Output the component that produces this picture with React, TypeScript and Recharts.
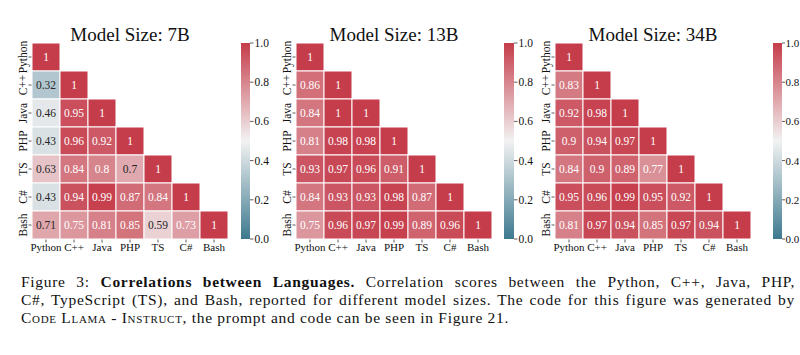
import React from 'react';
import { ScatterChart, Scatter, XAxis, YAxis, ReferenceArea } from 'recharts';

const LANGS = ['Python', 'C++', 'Java', 'PHP', 'TS', 'C#', 'Bash'];

const corr7B: number[][] = [
  [1],
  [0.32, 1],
  [0.46, 0.95, 1],
  [0.43, 0.96, 0.92, 1],
  [0.63, 0.84, 0.8, 0.7, 1],
  [0.43, 0.94, 0.99, 0.87, 0.84, 1],
  [0.71, 0.75, 0.81, 0.85, 0.59, 0.73, 1],
];

const corr13B: number[][] = [
  [1],
  [0.86, 1],
  [0.84, 1, 1],
  [0.81, 0.98, 0.98, 1],
  [0.93, 0.97, 0.96, 0.91, 1],
  [0.84, 0.93, 0.93, 0.98, 0.87, 1],
  [0.75, 0.96, 0.97, 0.99, 0.89, 0.96, 1],
];

const corr34B: number[][] = [
  [1],
  [0.83, 1],
  [0.92, 0.98, 1],
  [0.9, 0.94, 0.97, 1],
  [0.84, 0.9, 0.89, 0.77, 1],
  [0.95, 0.96, 0.99, 0.95, 0.92, 1],
  [0.81, 0.97, 0.94, 0.85, 0.97, 0.94, 1],
];

const COLORBAR_TICKS = [0, 0.2, 0.4, 0.6, 0.8, 1.0];
const TITLES = ['Model Size: 7B', 'Model Size: 13B', 'Model Size: 34B'];

const FONT = "'Liberation Serif', 'Times New Roman', serif";
const LOW = [61, 121, 143];
const MID = [242, 242, 242];
const HIGH = [197, 60, 74];

function cmap(v: number): string {
  let a: number[], b: number[], t: number;
  if (v < 0.5) {
    a = LOW; b = MID; t = v / 0.5;
  } else {
    a = MID; b = HIGH; t = (v - 0.5) / 0.5;
  }
  const c = a.map((x, i) => Math.round(x + (b[i] - x) * t));
  return `rgb(${c[0]},${c[1]},${c[2]})`;
}

function lum(v: number): number {
  const m = cmap(v).match(/\d+/g)!.map(Number);
  const lin = m.map((c) => {
    const s = c / 255;
    return s <= 0.03928 ? s / 12.92 : Math.pow((s + 0.055) / 1.055, 2.4);
  });
  return 0.2126 * lin[0] + 0.7152 * lin[1] + 0.0722 * lin[2];
}

function fmt(v: number): string {
  return String(parseFloat(v.toPrecision(2)));
}

const CELL = 28;
const PLOT_TOP = 43;
const PLOT_H = CELL * 7;
const CHART_H = 260;
const YAXIS_W = 32;

const panels = [
  { data: corr7B, hmLeft: 32, cbLeft: 241, cbRight: 250, rightW: 22, cbFont: 11.5, cbTick: 3.5, cbMargin: 1 },
  { data: corr13B, hmLeft: 296, cbLeft: 504, cbRight: 514, rightW: 22, cbFont: 11.5, cbTick: 3.5, cbMargin: 1 },
  { data: corr34B, hmLeft: 555, cbLeft: 773, cbRight: 782, rightW: 18, cbFont: 11, cbTick: 3, cbMargin: 0.5 },
];

const HeatCell = (props: any) => {
  const { cx, cy, payload } = props;
  if (cx == null || cy == null) return null;
  const v = payload.v as number;
  const dark = lum(v) > 0.44;
  return (
    <g>
      <rect
        x={cx - CELL / 2}
        y={cy - CELL / 2}
        width={CELL}
        height={CELL}
        fill={cmap(v)}
        stroke="#ffffff"
        strokeWidth={1}
      />
      <text
        x={cx}
        y={cy}
        dy="0.35em"
        textAnchor="middle"
        fontFamily={FONT}
        fontSize={11.5}
        fill={dark ? '#262626' : '#ffffff'}
      >
        {fmt(v)}
      </text>
    </g>
  );
};

const YTick = (props: any) => {
  const { x, y, payload } = props;
  return (
    <text
      transform={`translate(${x},${y}) rotate(-90)`}
      textAnchor="middle"
      fontFamily={FONT}
      fontSize={11.5}
      fill="#111"
    >
      {LANGS[payload.value]}
    </text>
  );
};

const Nothing = () => <g />;

const Panel = ({ idx }: { idx: number }) => {
  const p = panels[idx];
  const plotW = p.cbRight - p.hmLeft;
  const xMax = -0.5 + plotW / CELL;
  const cbX1 = -0.5 + (p.cbLeft - p.hmLeft) / CELL;
  const chartLeft = p.hmLeft - YAXIS_W;
  const chartW = YAXIS_W + plotW + p.rightW;
  const cells = p.data.flatMap((row, r) => row.map((v, c) => ({ x: c, y: r, v })));
  const cbAnchor = COLORBAR_TICKS.map((t) => ({ x: cbX1, y: t }));
  return (
    <div style={{ position: 'absolute', left: chartLeft, top: 0 }}>
      <ScatterChart
        width={chartW}
        height={CHART_H}
        margin={{ top: PLOT_TOP, right: 0, bottom: CHART_H - PLOT_TOP - PLOT_H - 18, left: 0 }}
      >
        <XAxis
          xAxisId="hm"
          type="number"
          dataKey="x"
          domain={[-0.5, xMax]}
          ticks={[0, 1, 2, 3, 4, 5, 6]}
          interval={0}
          tickFormatter={(i: number) => LANGS[i]}
          axisLine={false}
          tickLine={{ stroke: '#333', strokeWidth: 0.8 }}
          tickSize={3.5}
          tickMargin={1}
          height={18}
          tick={{ fontSize: 11, fontFamily: FONT, fill: '#111' }}
        />
        <YAxis
          yAxisId="hm"
          type="number"
          dataKey="y"
          domain={[-0.5, 6.5]}
          reversed
          ticks={[0, 1, 2, 3, 4, 5, 6]}
          interval={0}
          width={YAXIS_W}
          axisLine={false}
          tickLine={{ stroke: '#333', strokeWidth: 0.8 }}
          tickSize={3.5}
          tickMargin={2}
          tick={<YTick />}
        />
        <YAxis
          yAxisId="cb"
          orientation="right"
          type="number"
          dataKey="y"
          domain={[0, 1]}
          ticks={COLORBAR_TICKS}
          interval={0}
          width={p.rightW}
          axisLine={false}
          tickLine={{ stroke: '#333', strokeWidth: 0.8 }}
          tickSize={p.cbTick}
          tickMargin={p.cbMargin}
          tickFormatter={(v: number) => v.toFixed(1)}
          tick={{ fontSize: p.cbFont, fontFamily: FONT, fill: '#111' }}
        />
        <ReferenceArea
          xAxisId="hm"
          yAxisId="cb"
          x1={cbX1}
          x2={xMax}
          y1={0}
          y2={1}
          fill="url(#cmapGrad)"
          fillOpacity={1}
          stroke="none"
        />
        <Scatter
          xAxisId="hm"
          yAxisId="cb"
          data={cbAnchor}
          shape={() => <Nothing />}
          isAnimationActive={false}
        />
        <Scatter
          xAxisId="hm"
          yAxisId="hm"
          data={cells}
          shape={(sp: any) => <HeatCell {...sp} />}
          isAnimationActive={false}
        />
      </ScatterChart>
      <div
        style={{
          position: 'absolute',
          left: YAXIS_W,
          width: PLOT_H,
          top: 25,
          textAlign: 'center',
          fontFamily: FONT,
          fontSize: 19,
          lineHeight: '20px',
          color: '#111',
          whiteSpace: 'nowrap',
        }}
      >
        {TITLES[idx]}
      </div>
    </div>
  );
};

const lineStyle: React.CSSProperties = {
  textAlign: 'justify',
  textAlignLast: 'justify',
  whiteSpace: 'nowrap',
  height: 18,
};

export default function App() {
  return (
    <div
      style={{
        position: 'absolute',
        left: 0,
        top: 0,
        width: 800,
        height: 355,
        background: '#fff',
        overflow: 'hidden',
      }}
    >
      <svg width={0} height={0} style={{ position: 'absolute' }}>
        <defs>
          <linearGradient id="cmapGrad" x1="0" y1="1" x2="0" y2="0">
            <stop offset="0" stopColor={cmap(0)} />
            <stop offset="0.5" stopColor={cmap(0.5)} />
            <stop offset="1" stopColor={cmap(1)} />
          </linearGradient>
        </defs>
      </svg>
      <Panel idx={0} />
      <Panel idx={1} />
      <Panel idx={2} />
      <div
        style={{
          position: 'absolute',
          left: 21,
          top: 273,
          width: 774,
          fontFamily: FONT,
          fontSize: 15.5,
          letterSpacing: '0.7px',
          lineHeight: '18px',
          color: '#111',
        }}
      >
        <div style={lineStyle}>
          Figure 3: <b>Correlations between Languages.</b> Correlation scores between the Python, C++, Java, PHP,
        </div>
        <div style={lineStyle}>
          C#, TypeScript (TS), and Bash, reported for different model sizes. The code for this figure was generated by
        </div>
        <div style={{ whiteSpace: 'nowrap', height: 18 }}>
          <span style={{ fontVariant: 'small-caps' }}>Code Llama - Instruct</span>, the prompt and code can be seen in Figure 21.
        </div>
      </div>
    </div>
  );
}
